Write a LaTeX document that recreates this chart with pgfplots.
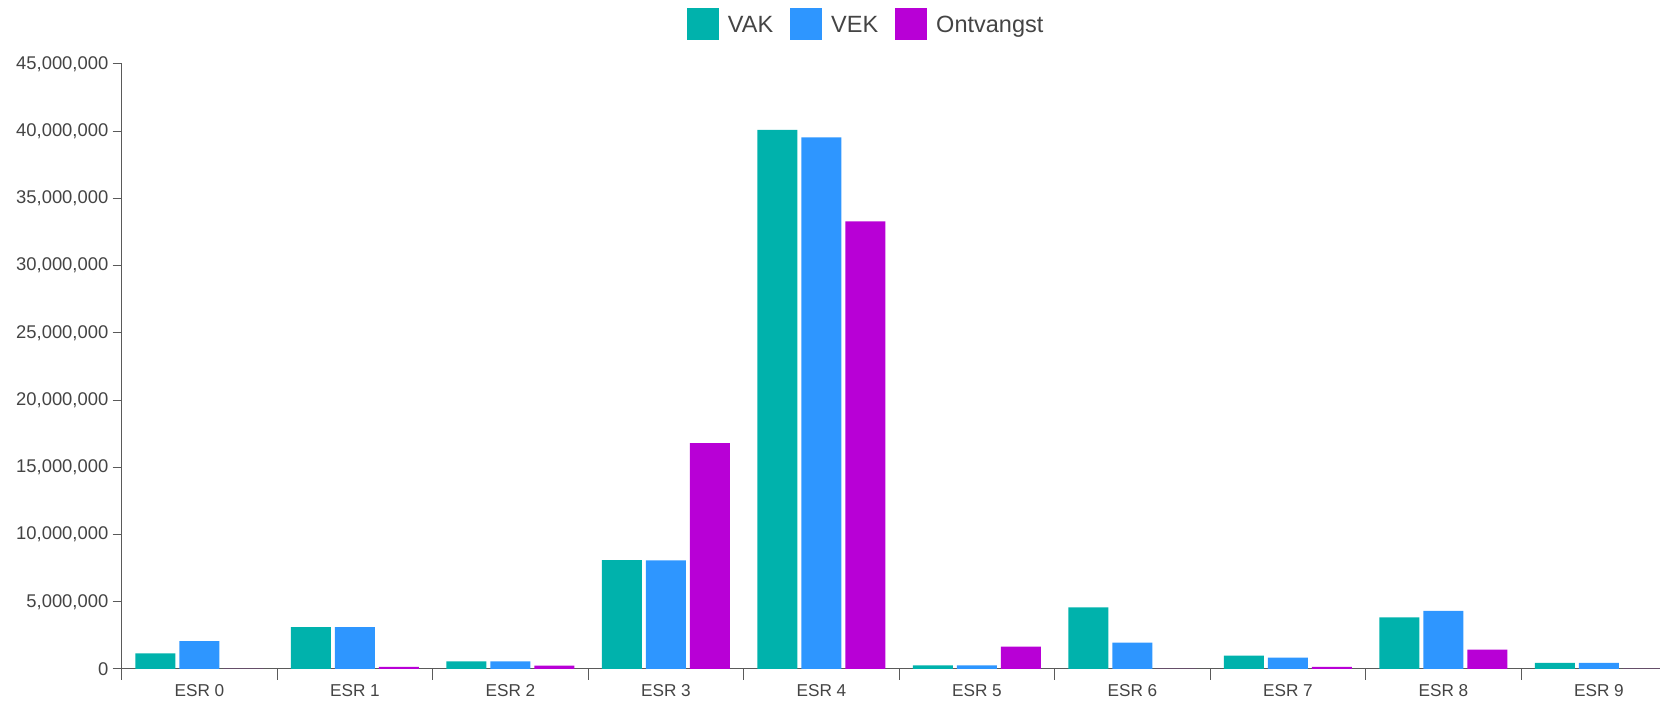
\documentclass[border=0pt]{standalone}
\usepackage{fontspec}
\setmainfont{Liberation Sans}
\usepackage{pgfplots}
\usepackage{pgfplotstable}
\pgfplotsset{compat=1.18}

\definecolor{vak}{RGB}{0,178,172}
\definecolor{vek}{RGB}{46,150,255}
\definecolor{ontv}{RGB}{184,0,214}
\definecolor{axisgrey}{RGB}{90,90,90}
\definecolor{txtgrey}{RGB}{68,68,68}

% one row per ESR category
\pgfplotstableread{
x vak vek ontv
0 1170000 2080000 0
1 3120000 3120000 150000
2 570000 570000 250000
3 8100000 8080000 16800000
4 40100000 39550000 33300000
5 270000 270000 1660000
6 4580000 1960000 0
7 990000 840000 150000
8 3830000 4330000 1440000
9 450000 460000 0
}\esr

\begin{document}
\begin{tikzpicture}
\begin{axis}[
  scale only axis,
  width=777.5pt, height=302.5pt,
  xmin=-0.5, xmax=9.5,
  ymin=0, ymax=45000000,
  axis x line=bottom, axis y line=left,
  axis line style={-, draw=axisgrey, line width=0.5pt},
  tick align=outside,
  ybar=2pt, bar width=20pt,
  xtick={0,...,9},
  xticklabels={ESR 0,ESR 1,ESR 2,ESR 3,ESR 4,ESR 5,ESR 6,ESR 7,ESR 8,ESR 9},
  minor xtick={-0.5,0.5,...,9.5},
  major x tick style={draw=none},
  minor x tick style={draw=axisgrey, line width=0.5pt},
  minor tick length=5.5pt,
  major tick length=4.5pt,
  ytick={0,5000000,...,45000000},
  ytick style={draw=axisgrey, line width=0.5pt},
  scaled y ticks=false,
  yticklabel style={/pgf/number format/fixed, /pgf/number format/1000 sep={,},
    /pgf/number format/precision=0, /pgf/number format/assume math mode=true},
  yticklabel style={font=\fontsize{9.2}{11}\selectfont, text=txtgrey, anchor=east, inner sep=0pt, xshift=-2pt},
  xticklabel style={font=\fontsize{8.6}{10}\selectfont, text=txtgrey, anchor=base, inner sep=0pt, yshift=-9.5pt},
  legend columns=-1,
  legend style={at={(rel axis cs:0.3635,1.0926)}, anchor=north west, draw=none, fill=none,
    inner sep=0pt, outer sep=0pt, font=\fontsize{11.75}{14}\selectfont, text=txtgrey,
    nodes={inner sep=0pt, text depth=0pt},
    /tikz/every odd column/.append style={column sep=4.5pt},
    /tikz/every even column/.append style={column sep=8.5pt}},
  clip=false,
]
\addplot[fill=vak, draw=none, legend image code/.code={\fill[vak] (0pt,-8pt) rectangle (16pt,8pt);}] table[x=x, y=vak] {\esr};
\addplot[fill=vek, draw=none, legend image code/.code={\fill[vek] (0pt,-8pt) rectangle (16pt,8pt);}] table[x=x, y=vek] {\esr};
\addplot[fill=ontv, draw=none, legend image code/.code={\fill[ontv] (0pt,-8pt) rectangle (16pt,8pt);}] table[x=x, y=ontv] {\esr};
\legend{VAK,VEK,Ontvangst}
\end{axis}
\pgfresetboundingbox
\useasboundingbox (-60.85pt,-17.5pt) rectangle (769.15pt,334.5pt);
\end{tikzpicture}
\end{document}
